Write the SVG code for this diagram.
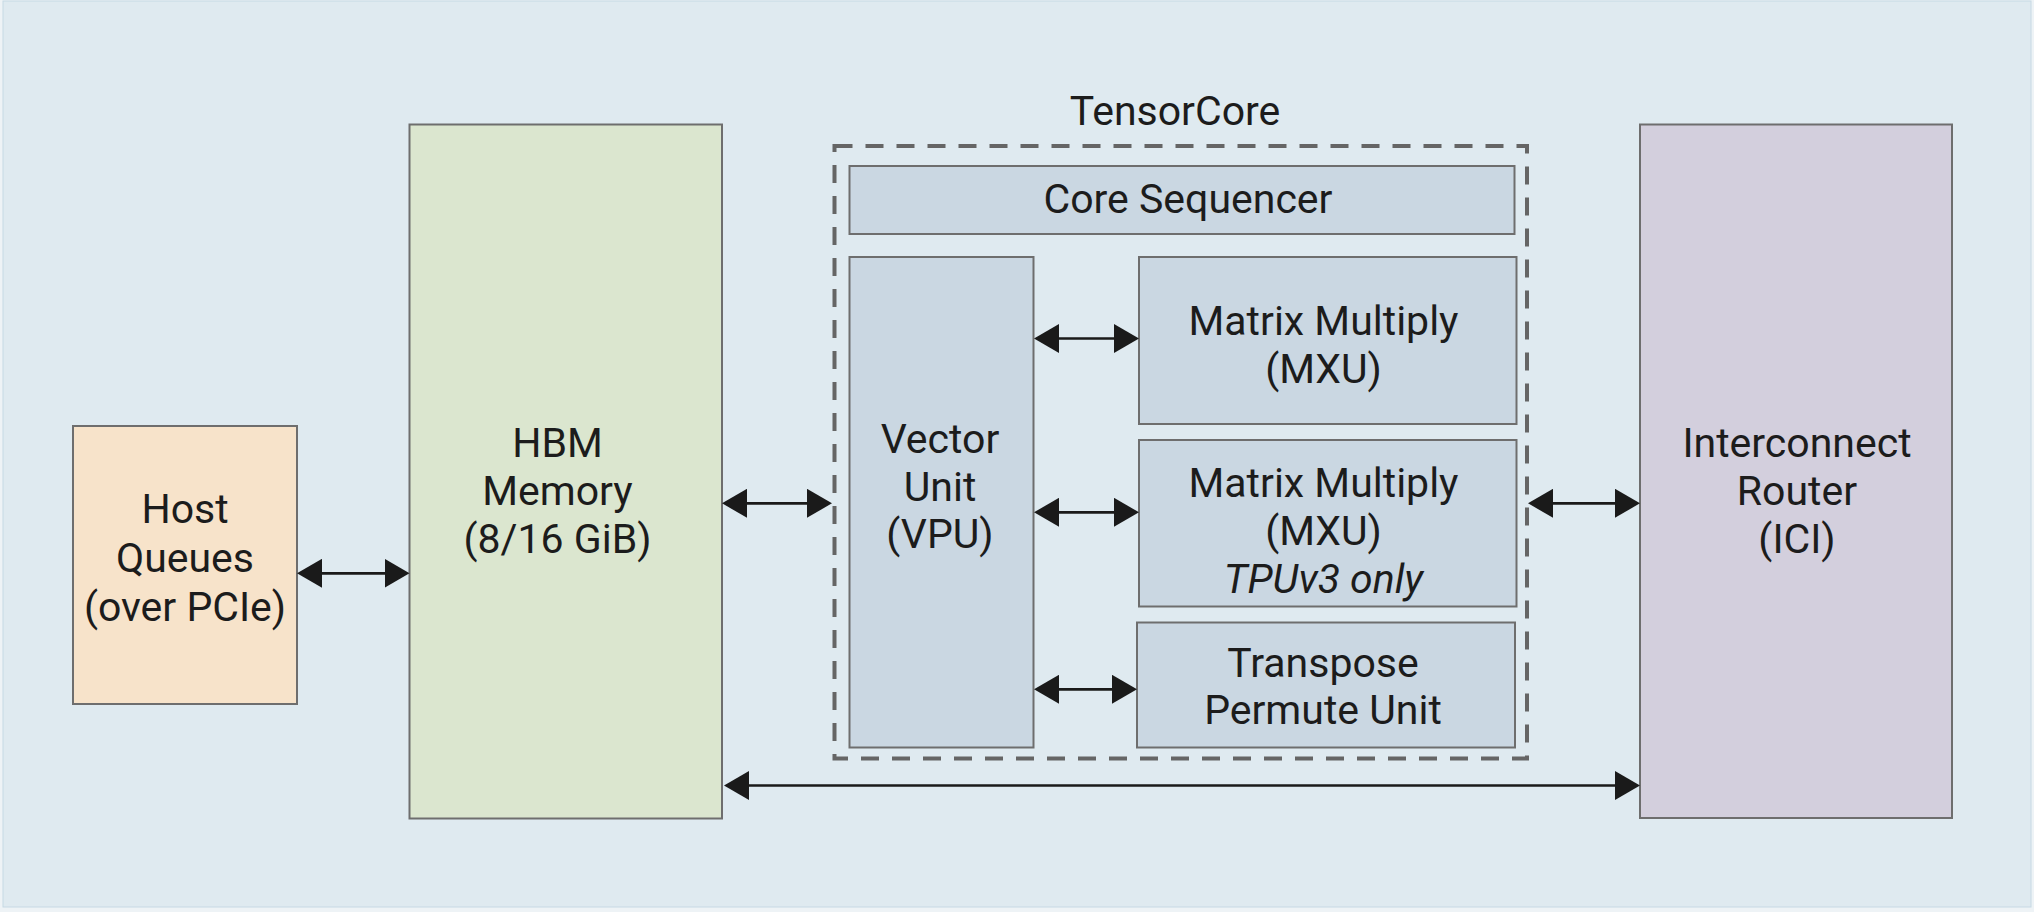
<svg xmlns="http://www.w3.org/2000/svg" width="2034" height="912" viewBox="0 0 2034 912">
  <defs>
    <style>
      .box { stroke: #6e6e6e; stroke-width: 2; }
      .host { fill: #f7e3ca; }
      .hbm { fill: #dbe6cf; }
      .tc { fill: #cad7e2; }
      .ici { fill: #d3cfdd; }
      .dash { fill: none; stroke: #656565; stroke-width: 4; stroke-dasharray: 18 13; }
      .lbl { font-family: Roboto, "Liberation Sans", sans-serif; font-size: 41px; fill: #1c1c1c; text-anchor: middle; }
      .it { font-style: italic; }
      .conn { stroke: #1a1a1a; stroke-width: 2.7; fill: none; marker-start: url(#ah); marker-end: url(#ah); }
    </style>
    <marker id="ah" markerUnits="userSpaceOnUse" markerWidth="25" markerHeight="29" refX="15" refY="14.5" orient="auto-start-reverse" viewBox="0 0 25 29">
      <path d="M0,0 L25,14.5 L0,29 Z" fill="#1a1a1a"/>
    </marker>
  </defs>

  <rect x="0" y="0" width="2034" height="912" fill="#eef3f6"/>
  <rect x="3" y="1" width="2028" height="906" fill="#dfeaf0" stroke="#c6d9e4" stroke-width="1"/>

  <g id="tensorcore">
    <rect class="dash" x="834.5" y="146" width="692.5" height="612.5"/>
    <text class="lbl" x="1175" y="125">TensorCore</text>
  </g>

  <g id="host-queues">
    <rect class="box host" x="73" y="426" width="224" height="278"/>
    <text class="lbl" x="185" y="523">Host</text>
    <text class="lbl" x="185" y="572">Queues</text>
    <text class="lbl" x="185" y="621">(over PCIe)</text>
  </g>

  <g id="hbm-memory">
    <rect class="box hbm" x="409.5" y="124.5" width="312.5" height="694"/>
    <text class="lbl" x="557.5" y="457">HBM</text>
    <text class="lbl" x="557.5" y="505">Memory</text>
    <text class="lbl" x="557.5" y="553">(8/16 GiB)</text>
  </g>

  <g id="core-sequencer">
    <rect class="box tc" x="849.5" y="166" width="665" height="68"/>
    <text class="lbl" x="1188" y="213">Core Sequencer</text>
  </g>

  <g id="vector-unit">
    <rect class="box tc" x="849.5" y="257" width="184" height="490.5"/>
    <text class="lbl" x="940" y="453">Vector</text>
    <text class="lbl" x="940" y="501">Unit</text>
    <text class="lbl" x="940" y="548">(VPU)</text>
  </g>

  <g id="mxu-1">
    <rect class="box tc" x="1139" y="257" width="377.5" height="167"/>
    <text class="lbl" x="1323.5" y="335">Matrix Multiply</text>
    <text class="lbl" x="1323.5" y="383">(MXU)</text>
  </g>

  <g id="mxu-2">
    <rect class="box tc" x="1139" y="440" width="377.5" height="166.5"/>
    <text class="lbl" x="1323.5" y="497">Matrix Multiply</text>
    <text class="lbl" x="1323.5" y="545">(MXU)</text>
    <text class="lbl it" x="1323.5" y="593">TPUv3 only</text>
  </g>

  <g id="transpose-unit">
    <rect class="box tc" x="1137" y="622.5" width="378" height="125"/>
    <text class="lbl" x="1323" y="677">Transpose</text>
    <text class="lbl" x="1323" y="724">Permute Unit</text>
  </g>

  <g id="ici-router">
    <rect class="box ici" x="1640" y="124.5" width="312" height="693.5"/>
    <text class="lbl" x="1797" y="457">Interconnect</text>
    <text class="lbl" x="1797" y="505">Router</text>
    <text class="lbl" x="1797" y="553">(ICI)</text>
  </g>

  <g id="connectors">
    <line class="conn" x1="307" y1="573.3" x2="399.5" y2="573.3"/>
    <line class="conn" x1="732" y1="503.3" x2="822" y2="503.3"/>
    <line class="conn" x1="1044" y1="338.5" x2="1129" y2="338.5"/>
    <line class="conn" x1="1044" y1="512.3" x2="1129" y2="512.3"/>
    <line class="conn" x1="1044" y1="689.3" x2="1127" y2="689.3"/>
    <line class="conn" x1="1538" y1="503.3" x2="1630" y2="503.3"/>
    <line class="conn" x1="734" y1="785.5" x2="1630" y2="785.5"/>
  </g>
</svg>
